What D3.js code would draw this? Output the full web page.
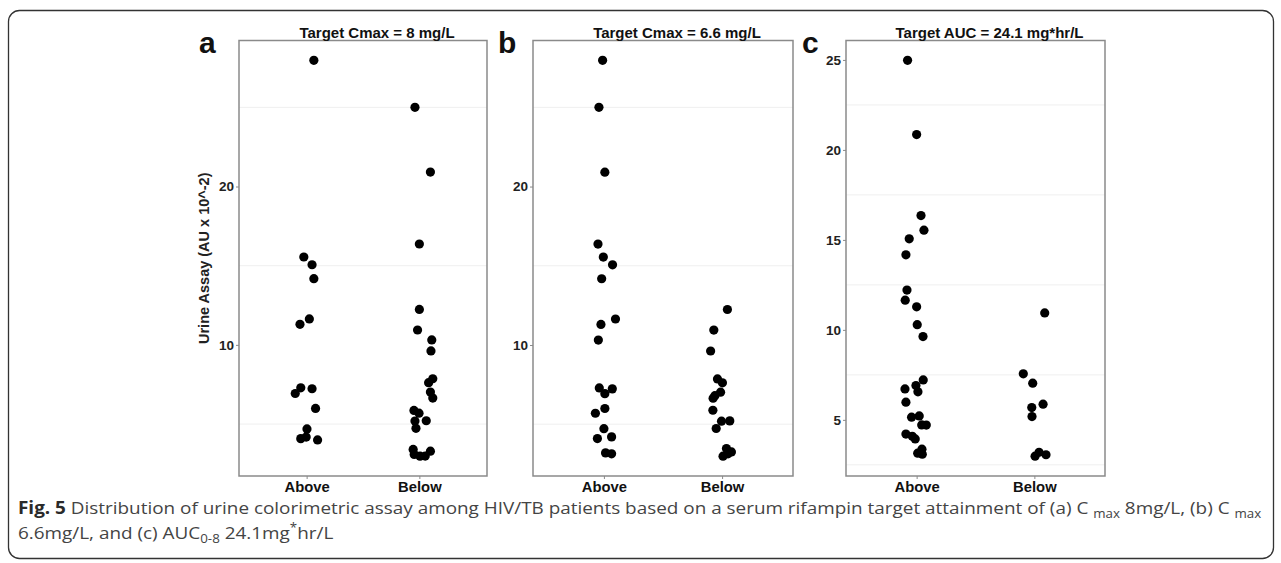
<!DOCTYPE html>
<html>
<head>
<meta charset="utf-8">
<script src="https://cdn.jsdelivr.net/npm/d3@7"></script>
<style>
  body { margin: 0; background: #fff; }
  svg { display: block; font-family: "Liberation Sans", Arial, sans-serif; }
</style>
</head>
<body>
<svg id="fig" width="1281" height="563"></svg>
<script>
const groups = ["Above", "Below"];

// [urine assay, jitter in category units]
const cmax8Above = [
  [27.97, 0.064], [15.55, -0.025], [15.06, 0.048], [14.18, 0.064],
  [11.64, 0.024], [11.3, -0.059], [7.29, -0.052], [7.23, 0.048],
  [6.93, -0.101], [5.99, 0.079], [4.69, 0.003], [4.18, -0.004],
  [4.08, -0.052], [4.0, 0.097]
];
const cmax8Below = [
  [25.0, -0.039], [20.91, 0.098], [16.37, 0.0], [12.24, 0.0],
  [10.94, -0.016], [10.31, 0.11], [9.62, 0.103], [7.86, 0.119],
  [7.61, 0.082], [7.02, 0.098], [6.64, 0.119], [5.86, -0.048],
  [5.69, -0.003], [5.21, 0.061], [5.19, -0.039], [4.73, -0.03],
  [3.4, -0.055], [3.29, 0.098], [3.08, -0.046], [2.98, 0.052],
  [2.97, 0.006]
];
const cmax66Above = [
  [27.97, -0.011], [25.0, -0.042], [20.91, 0.008], [16.37, -0.05],
  [15.55, -0.005], [15.06, 0.073], [14.18, -0.019], [11.64, 0.098],
  [11.3, -0.025], [10.31, -0.047], [7.29, -0.039], [7.23, 0.071],
  [6.93, 0.008], [5.99, 0.008], [5.69, -0.072], [4.72, 0.0],
  [4.2, 0.065], [4.09, -0.055], [3.19, 0.014], [3.13, 0.065]
];
const cmax66Below = [
  [12.24, 0.045], [10.94, -0.07], [9.62, -0.097], [7.86, -0.039],
  [7.61, 0.003], [7.02, -0.013], [6.8, -0.061], [6.64, -0.076],
  [5.88, -0.078], [5.21, 0.065], [5.19, -0.005], [4.73, -0.05],
  [3.46, 0.037], [3.25, 0.079], [3.13, 0.05], [2.98, 0.008]
];
const auc241Above = [
  [24.98, -0.077], [20.85, 0.0], [16.35, 0.037], [15.54, 0.062],
  [15.06, -0.063], [14.17, -0.091], [12.21, -0.082], [11.65, -0.097],
  [11.28, 0.0], [10.29, 0.005], [9.63, 0.054], [7.22, 0.056],
  [6.91, -0.006], [6.72, -0.099], [6.56, 0.011], [5.98, -0.091],
  [5.22, 0.022], [5.15, -0.043], [4.72, 0.043], [4.71, 0.082],
  [4.21, -0.091], [4.09, -0.037], [3.94, -0.012], [3.37, 0.045],
  [3.15, 0.009], [3.09, 0.048]
];
const auc241Below = [
  [10.94, 0.088], [7.56, -0.094], [7.04, -0.014], [5.87, 0.074],
  [5.68, -0.022], [5.18, -0.02], [3.2, 0.04], [3.06, 0.099],
  [2.98, 0.006]
];

const majorCmax = [10, 20];
const minorCmax = [5, 15, 25];
const majorAuc = [5, 10, 15, 20, 25];
const minorAuc = [2.5, 7.5, 12.5, 17.5, 22.5];

const panels = [
  { tag: "a", title: "Target Cmax = 8 mg/L", sets: [cmax8Above, cmax8Below],
    major: majorCmax, minor: minorCmax, left: 239, right: 487 },
  { tag: "b", title: "Target Cmax = 6.6 mg/L", sets: [cmax66Above, cmax66Below],
    major: majorCmax, minor: minorCmax, left: 533, right: 793 },
  { tag: "c", title: "Target AUC = 24.1 mg*hr/L", sets: [auc241Above, auc241Below],
    major: majorAuc, minor: minorAuc, left: 846, right: 1105 }
];

const svg = d3.select("#fig"),
  plotTop = 40.5,
  plotBottom = 476,
  border = "#8a8a8a";

svg.append("rect")
  .attr("x", 8.5).attr("y", 10.5)
  .attr("width", 1265).attr("height", 548)
  .attr("rx", 11)
  .attr("fill", "none")
  .attr("stroke", "#333")
  .attr("stroke-width", 1.3);

panels.forEach((p, i) => {
  const all = p.sets.flat().map((d) => d[0]);
  const [lo, hi] = d3.extent(all);
  const pad = (hi - lo) * 0.05;

  const y = d3.scaleLinear().domain([lo - pad, hi + pad]).range([plotBottom, plotTop]);
  const x = d3.scaleLinear().domain([0.4, 2.6]).range([p.left, p.right]);

  const g = svg.append("g");

  g.selectAll(".minor")
    .data(p.minor.filter((v) => v > lo - pad && v < hi + pad))
    .join("line")
    .attr("x1", p.left).attr("x2", p.right)
    .attr("y1", (d) => y(d)).attr("y2", (d) => y(d))
    .attr("stroke", "#efefef")
    .attr("stroke-width", 1);

  g.append("rect")
    .attr("x", p.left).attr("y", plotTop)
    .attr("width", p.right - p.left).attr("height", plotBottom - plotTop)
    .attr("fill", "none")
    .attr("stroke", border)
    .attr("stroke-width", 1.5);

  const yAxis = g.append("g")
    .attr("transform", `translate(${p.left},0)`)
    .call(d3.axisLeft(y).tickValues(p.major).tickSize(3).tickPadding(2).tickFormat(d3.format("d")));
  yAxis.select(".domain").remove();
  yAxis.selectAll(".tick line").attr("stroke", border);
  yAxis.selectAll(".tick text")
    .attr("fill", "#222")
    .style("font-size", "13.5px")
    .style("font-weight", "bold")
    .style("font-family", "Liberation Sans, Arial, sans-serif");

  const xAxis = g.append("g")
    .attr("transform", `translate(0,${plotBottom})`)
    .call(d3.axisBottom(x).tickValues([1, 2]).tickSize(3).tickPadding(2).tickFormat((d) => groups[d - 1]));
  xAxis.select(".domain").remove();
  xAxis.selectAll(".tick line").attr("stroke", border);
  xAxis.selectAll(".tick text")
    .attr("fill", "#111")
    .style("font-size", "14.8px")
    .style("font-weight", "bold")
    .style("font-family", "Liberation Sans, Arial, sans-serif");

  p.sets.forEach((set, k) => {
    g.selectAll(".pt" + k)
      .data(set)
      .join("circle")
      .attr("class", "pt" + k)
      .attr("cx", (d) => x(k + 1 + d[1]))
      .attr("cy", (d) => y(d[0]))
      .attr("r", 4.6)
      .attr("fill", "#000");
  });

  g.append("text")
    .attr("x", (p.left + p.right) / 2 + 14)
    .attr("y", 37.5)
    .attr("text-anchor", "middle")
    .style("font-size", "15px")
    .style("font-weight", "bold")
    .attr("fill", "#111")
    .text(p.title);

  g.append("text")
    .attr("x", p.left - (i === 0 ? 40 : (i === 1 ? 35 : 44)))
    .attr("y", 53)
    .style("font-size", "30px")
    .style("font-weight", "bold")
    .attr("fill", "#111")
    .text(p.tag);
});

svg.append("text")
  .attr("transform", `translate(204,${(plotTop + plotBottom) / 2}) rotate(-90)`)
  .attr("text-anchor", "middle")
  .attr("dy", "0.35em")
  .style("font-size", "14.5px")
  .style("font-weight", "bold")
  .attr("fill", "#222")
  .text("Urine Assay (AU x 10^-2)");

// caption
const cap = svg.append("g").style("font-family", "'Open Sans', 'Noto Sans', sans-serif");
const line1 = cap.append("text").attr("y", 514).style("font-size", "17px").attr("fill", "#444");
const line2 = cap.append("text").attr("y", 539).style("font-size", "17px").attr("fill", "#444");

function piece(t, text, kind) {
  const s = t.append("tspan").text(text);
  if (kind === "bold") s.style("font-weight", "bold").attr("fill", "#2a2a2a");
  if (kind === "sub") s.style("font-size", "12px").attr("dy", 4);
  if (kind === "back") s.attr("dy", -4);
  if (kind === "sup") s.style("font-size", "12px").attr("dy", -7);
  if (kind === "backsup") s.attr("dy", 7);
  return s;
}

piece(line1, "Fig. 5", "bold");
piece(line1, " Distribution of urine colorimetric assay among HIV/TB patients based on a serum rifampin target attainment of (a) C ");
piece(line1, "max", "sub");
piece(line1, " 8mg/L, (b) C ", "back");
piece(line1, "max", "sub");

piece(line2, "6.6mg/L, and (c) AUC");
piece(line2, "0-8", "sub");
piece(line2, " 24.1mg", "back");
piece(line2, "*", "sup");
piece(line2, "hr/L", "backsup");

const w1 = line1.node().getComputedTextLength();
const k = 1244 / w1;
cap.attr("transform", `translate(18,0) scale(${k},1)`);
</script>
</body>
</html>
